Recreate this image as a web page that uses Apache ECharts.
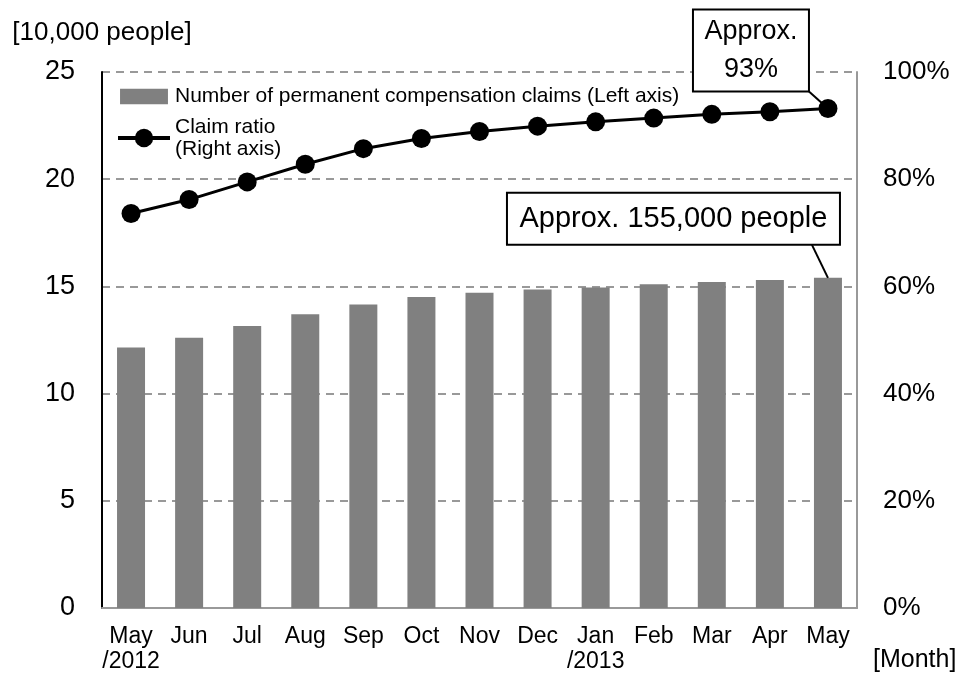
<!DOCTYPE html>
<html>
<head>
<meta charset="utf-8">
<script src="https://cdn.jsdelivr.net/npm/echarts@6/dist/echarts.min.js"></script>
<style>
  html, body { margin: 0; padding: 0; background: #fff; }
  #main { width: 967px; height: 677px; }
</style>
</head>
<body>
<div id="main"></div>
<script>
  // months on the x axis
  const months = ['May\n/2012', 'Jun', 'Jul', 'Aug', 'Sep', 'Oct', 'Nov', 'Dec', 'Jan\n/2013', 'Feb', 'Mar', 'Apr', 'May']
  // number of permanent compensation claims, 10,000 people
  const claims = [12.15, 12.6, 13.15, 13.7, 14.15, 14.5, 14.7, 14.85, 14.95, 15.1, 15.2, 15.3, 15.4]
  // claim ratio, %
  const ratio = [73.6, 76.2, 79.5, 82.8, 85.7, 87.6, 88.9, 89.9, 90.7, 91.4, 92.1, 92.6, 93.2]
  const leftTicks = [0, 5, 10, 15, 20, 25]
  const rightTicks = [0, 20, 40, 60, 80, 100]

  const FONT = "'Liberation Sans', Arial, sans-serif"

  let myChart = echarts.init(document.getElementById('main'))

  // legend rect icon: 50x16 box inside a 50x24 frame so it stays flat
  const barIcon = 'path://M0,0L0.01,0L0.01,0.01Z M0,4L50,4L50,20L0,20Z M49.99,24L50,24L50,23.99Z'

  let option = {
    animation: false,
    textStyle: { fontFamily: FONT, color: '#000' },
    grid: { left: 102, right: 110, top: 72, bottom: 69, containLabel: false },
    legend: {
      orient: 'vertical',
      left: 111,
      top: 80,
      itemWidth: 52,
      itemHeight: 23,
      itemGap: 8,
      textStyle: { fontFamily: FONT, fontSize: 21, color: '#000', lineHeight: 22 },
      formatter(name) {
        if (name === 'Claim ratio') return 'Claim ratio\n(Right axis)'
        return name
      },
      data: [
        { name: 'Number of permanent compensation claims (Left axis)', icon: barIcon },
        { name: 'Claim ratio', lineStyle: { width: 4, color: '#000' } }
      ]
    },
    xAxis: [{
      type: 'category',
      data: months,
      name: '[Month]',
      nameLocation: 'end',
      nameGap: 16,
      nameTextStyle: { fontFamily: FONT, fontSize: 25, color: '#000', align: 'left', verticalAlign: 'top', padding: [40, 0, 0, 0] },
      axisLine: { lineStyle: { color: '#999', width: 2 } },
      axisTick: { show: false },
      axisLabel: { fontFamily: FONT, fontSize: 23, color: '#000', margin: 16, lineHeight: 25, interval: 0 }
    }],
    yAxis: [
      {
        type: 'value',
        min: leftTicks[0],
        max: leftTicks[leftTicks.length - 1],
        interval: 5,
        name: '[10,000 people]',
        nameLocation: 'end',
        nameGap: 26,
        nameTextStyle: { fontFamily: FONT, fontSize: 26, color: '#000', align: 'center' },
        axisLine: { show: true, lineStyle: { color: '#000', width: 2 } },
        axisTick: { show: false },
        axisLabel: { fontFamily: FONT, fontSize: 27, color: '#000', margin: 27 },
        splitLine: { show: true, lineStyle: { color: '#999', width: 2, type: [8, 6] } }
      },
      {
        type: 'value',
        position: 'right',
        min: rightTicks[0],
        max: rightTicks[rightTicks.length - 1],
        interval: 20,
        axisLine: { show: true, lineStyle: { color: '#999', width: 2 } },
        axisTick: { show: false },
        axisLabel: { fontFamily: FONT, fontSize: 26, color: '#000', margin: 26, formatter: '{value}%' },
        splitLine: { show: false }
      }
    ],
    series: [
      {
        name: 'Number of permanent compensation claims (Left axis)',
        type: 'bar',
        yAxisIndex: 0,
        barWidth: 28,
        itemStyle: { color: '#808080' },
        data: claims
      },
      {
        name: 'Claim ratio',
        type: 'line',
        yAxisIndex: 1,
        symbol: 'circle',
        symbolSize: 19,
        lineStyle: { color: '#000', width: 3 },
        itemStyle: { color: '#000' },
        data: ratio,
        z: 5
      }
    ]
  }

  myChart.setOption(option)

  // callout boxes anchored to the last points
  const last = months.length - 1
  const dot = myChart.convertToPixel({ seriesIndex: 1 }, [last, ratio[last]])
  const bar = myChart.convertToPixel({ seriesIndex: 0 }, [last, claims[last]])

  const box1 = { x: dot[0] - 135, y: dot[1] - 99, w: 116, h: 82 }
  const box2 = { x: bar[0] - 321, y: bar[1] - 85, w: 333, h: 52 }

  myChart.setOption({
    graphic: [
      {
        type: 'line', z: 20,
        shape: { x1: box1.x + box1.w, y1: box1.y + box1.h, x2: dot[0], y2: dot[1] },
        style: { stroke: '#000', lineWidth: 2 }
      },
      {
        type: 'rect', z: 20,
        shape: { x: box1.x, y: box1.y, width: box1.w, height: box1.h },
        style: { fill: '#fff', stroke: '#000', lineWidth: 2 }
      },
      {
        type: 'text', z: 21,
        x: box1.x + box1.w / 2, y: box1.y + box1.h / 2,
        style: { text: 'Approx.\n93%', font: '27px ' + FONT, fill: '#000', align: 'center', verticalAlign: 'middle', lineHeight: 38 }
      },
      {
        type: 'line', z: 20,
        shape: { x1: box2.x + 305, y1: box2.y + box2.h, x2: bar[0], y2: bar[1] },
        style: { stroke: '#000', lineWidth: 2 }
      },
      {
        type: 'rect', z: 20,
        shape: { x: box2.x, y: box2.y, width: box2.w, height: box2.h },
        style: { fill: '#fff', stroke: '#000', lineWidth: 2 }
      },
      {
        type: 'text', z: 21,
        x: box2.x + box2.w / 2, y: box2.y + box2.h / 2,
        style: { text: 'Approx. 155,000 people', font: '29px ' + FONT, fill: '#000', align: 'center', verticalAlign: 'middle' }
      }
    ]
  })
</script>
</body>
</html>
